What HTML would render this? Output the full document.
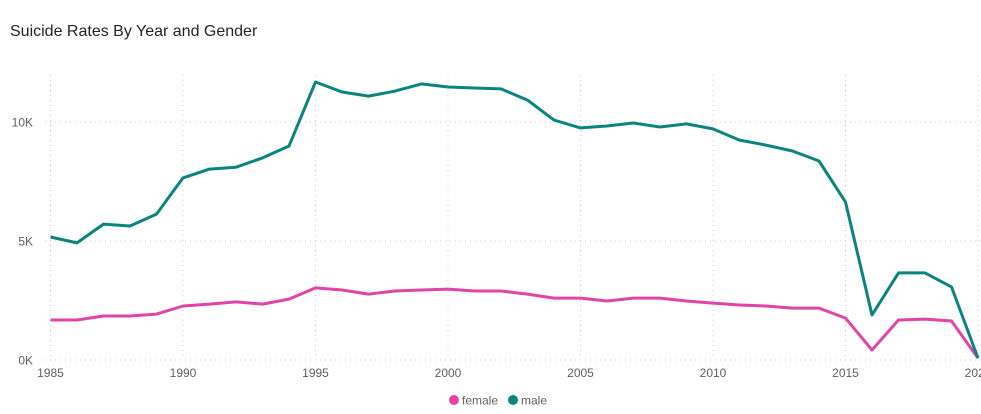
<!DOCTYPE html>
<html><head><meta charset="utf-8"><style>
html,body{margin:0;padding:0;background:#fff;width:981px;height:414px;overflow:hidden;font-family:"Liberation Sans",sans-serif}
</style></head><body>
<svg id="chart" width="981" height="414" xmlns="http://www.w3.org/2000/svg">
<text x="10" y="36" font-size="16" fill="#252423" font-family="Liberation Sans, sans-serif">Suicide Rates By Year and Gender</text>
<g id="grid"></g><g id="axes"></g><g id="lines"></g>
<g>
<circle cx="454" cy="400" r="5" fill="#E044A7"/>
<text x="462" y="404.5" font-size="12" fill="#605E5C">female</text>
<circle cx="513" cy="400" r="5" fill="#0B837F"/>
<text x="521" y="404.5" font-size="12" fill="#605E5C">male</text>
</g>
</svg>
<script>
const years=[];for(let y=1985;y<=2020;y++)years.push(y);
const male=[5.17,4.92,5.71,5.63,6.13,7.65,8.02,8.1,8.49,8.99,11.68,11.26,11.09,11.3,11.6,11.47,11.43,11.39,10.92,10.08,9.75,9.83,9.96,9.79,9.92,9.71,9.24,9.03,8.78,8.36,6.64,1.89,3.66,3.66,3.07,0.08];
const female=[1.68,1.68,1.85,1.85,1.93,2.27,2.35,2.44,2.35,2.56,3.03,2.94,2.77,2.9,2.94,2.98,2.9,2.9,2.77,2.6,2.6,2.48,2.6,2.6,2.48,2.39,2.31,2.27,2.18,2.18,1.76,0.42,1.68,1.72,1.64,0.08];
const yTicks=[0,5,10];
const xTicks=[1985,1990,1995,2000,2005,2010,2015,2020];
const NS="http://www.w3.org/2000/svg";
const X=v=>50.5+(v-1985)*26.5;
const Y=v=>360-v*23.8;
function el(t,a,p){const e=document.createElementNS(NS,t);for(const k in a)e.setAttribute(k,a[k]);document.getElementById(p).appendChild(e);return e;}
yTicks.forEach(t=>{
 const l=el('line',{x1:45,x2:981,y1:Y(t),y2:Y(t),stroke:'#C8C8C8','stroke-dasharray':'1 4'},'grid');
 
 
 const tx=el('text',{x:33,y:Y(t)+4.5,'font-size':12,fill:'#605E5C','text-anchor':'end'},'axes');
 tx.textContent=t+'K';
 
 
});
xTicks.forEach(t=>{
 const l=el('line',{x1:X(t),x2:X(t),y1:75,y2:360,stroke:'#C8C8C8','stroke-dasharray':'1 4'},'grid');
 
 
 const tx=el('text',{x:X(t),y:377,'font-size':12,fill:'#605E5C','text-anchor':'middle'},'axes');
 tx.textContent=t;
 
 
});
function draw(vals,color,name){
 const d=vals.map((v,i)=>(i?'L':'M')+X(years[i]).toFixed(1)+','+Y(v).toFixed(1)).join('');
 const p=el('path',{d:d,fill:'none',stroke:color,'stroke-width':3,'stroke-linejoin':'round'},'lines');
 
 
}
draw(female,'#E044A7','female-line');
draw(male,'#0B837F','male-line');
</script>
</body></html>
